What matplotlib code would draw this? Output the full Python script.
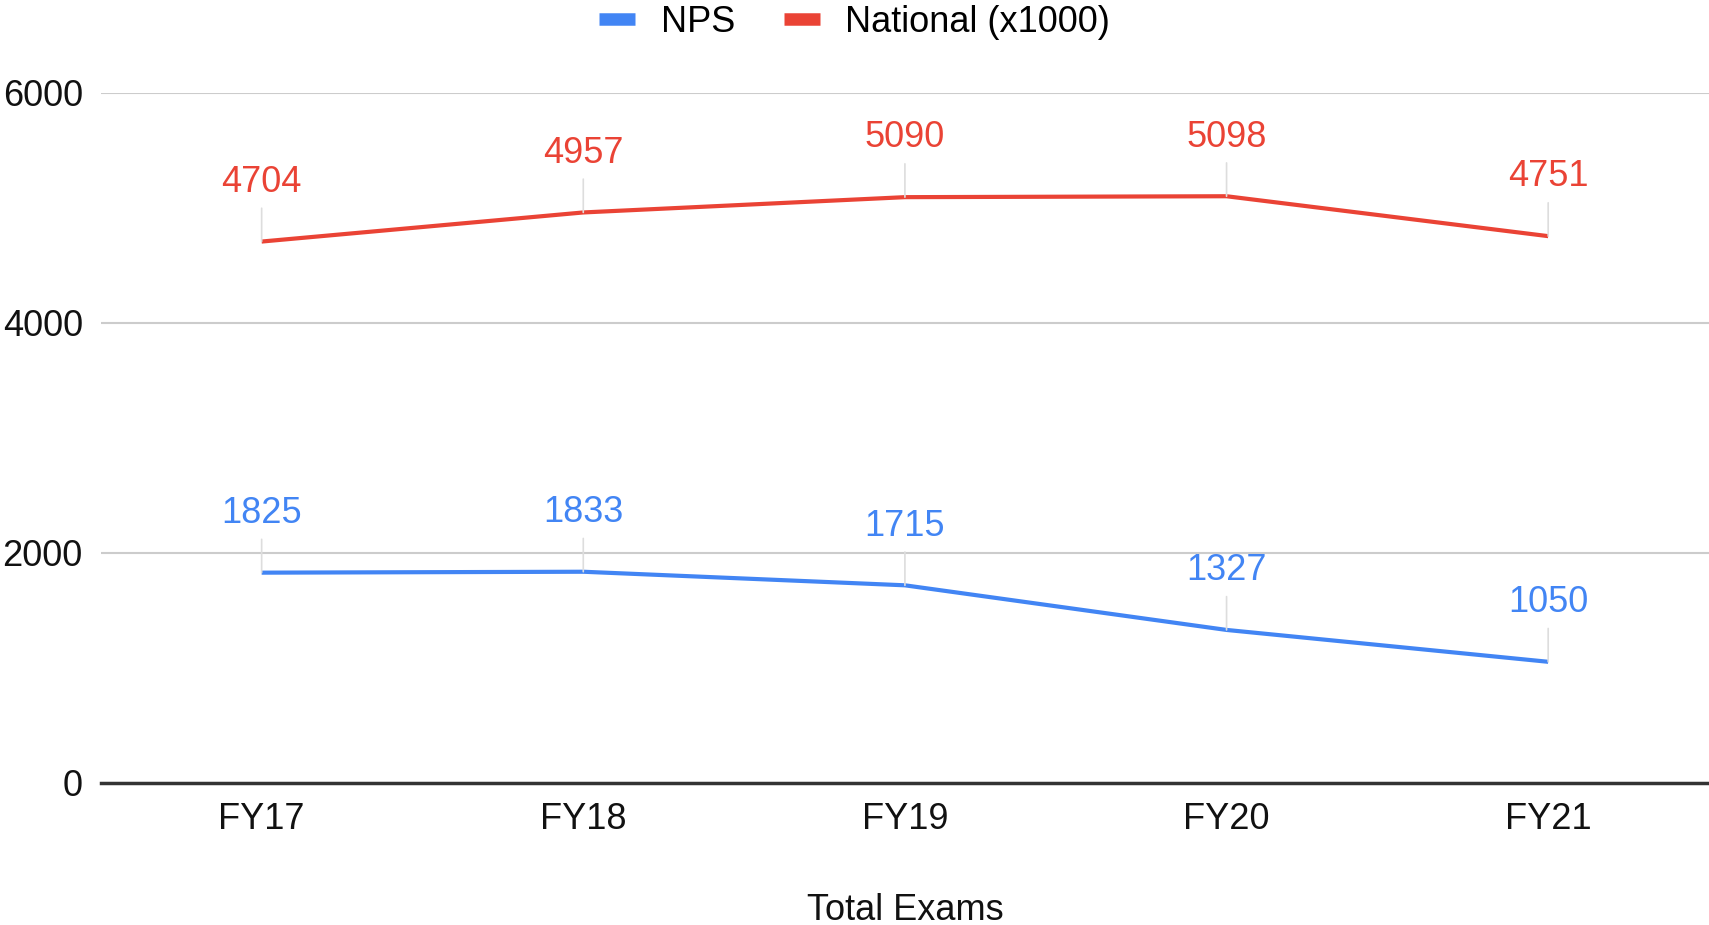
import numpy as np
import matplotlib.pyplot as plt
from matplotlib.lines import Line2D

plt.rcParams['font.family'] = ['Liberation Sans', 'DejaVu Sans']

years = ['FY17', 'FY18', 'FY19', 'FY20', 'FY21']
nps = [1825, 1833, 1715, 1327, 1050]
national = [4704, 4957, 5090, 5098, 4751]   # x1000

blue = '#4285F4'
red = '#EA4335'
fs = 26

fig = plt.figure(figsize=(17.09, 9.25), dpi=100)
ax = fig.add_axes([0.059, 0.154, 0.941, 0.746])

x = np.arange(len(years))
ax.plot(x, nps, color=blue, lw=3, solid_capstyle='butt', zorder=3)
ax.plot(x, national, color=red, lw=3, solid_capstyle='butt', zorder=3)

# data labels with thin leader lines
for vals, col in [(nps, blue), (national, red)]:
    for xi, v in zip(x, vals):
        ax.annotate(str(v), xy=(xi, v), xytext=(0, 30), textcoords='offset points',
                    ha='center', va='bottom', fontsize=fs, color=col,
                    arrowprops=dict(arrowstyle='-', color='#dddddd', lw=1.2,
                                    shrinkA=4, shrinkB=0), zorder=4)

ax.set_xlim(-0.5, 4.5)
ax.set_ylim(0, 6000)
ax.set_yticks([0, 2000, 4000, 6000])
ax.set_xticks(x)
ax.set_xticklabels(years)
ax.tick_params(axis='both', length=0, labelsize=fs, colors='#111111')
ax.tick_params(axis='y', pad=13)
ax.tick_params(axis='x', pad=14)
ax.grid(axis='y', color='#cccccc', lw=1.5, zorder=0)
for s in ['top', 'right', 'left']:
    ax.spines[s].set_visible(False)
ax.spines['bottom'].set_color('#333333')
ax.spines['bottom'].set_linewidth(2.5)
ax.spines['bottom'].set_zorder(2)

ax.set_xlabel('Total Exams', fontsize=fs, color='#111111', labelpad=40)

handles = [Line2D([], [], color=blue, lw=9, solid_capstyle='butt'),
           Line2D([], [], color=red, lw=9, solid_capstyle='butt')]
fig.legend(handles, ['NPS', 'National (x1000)'], loc='center', bbox_to_anchor=(0.5, 0.976),
           ncol=2, frameon=False, fontsize=fs, handlelength=1.0, columnspacing=1.35,
           handletextpad=0.7)

fig.savefig('out.png', dpi=100)
